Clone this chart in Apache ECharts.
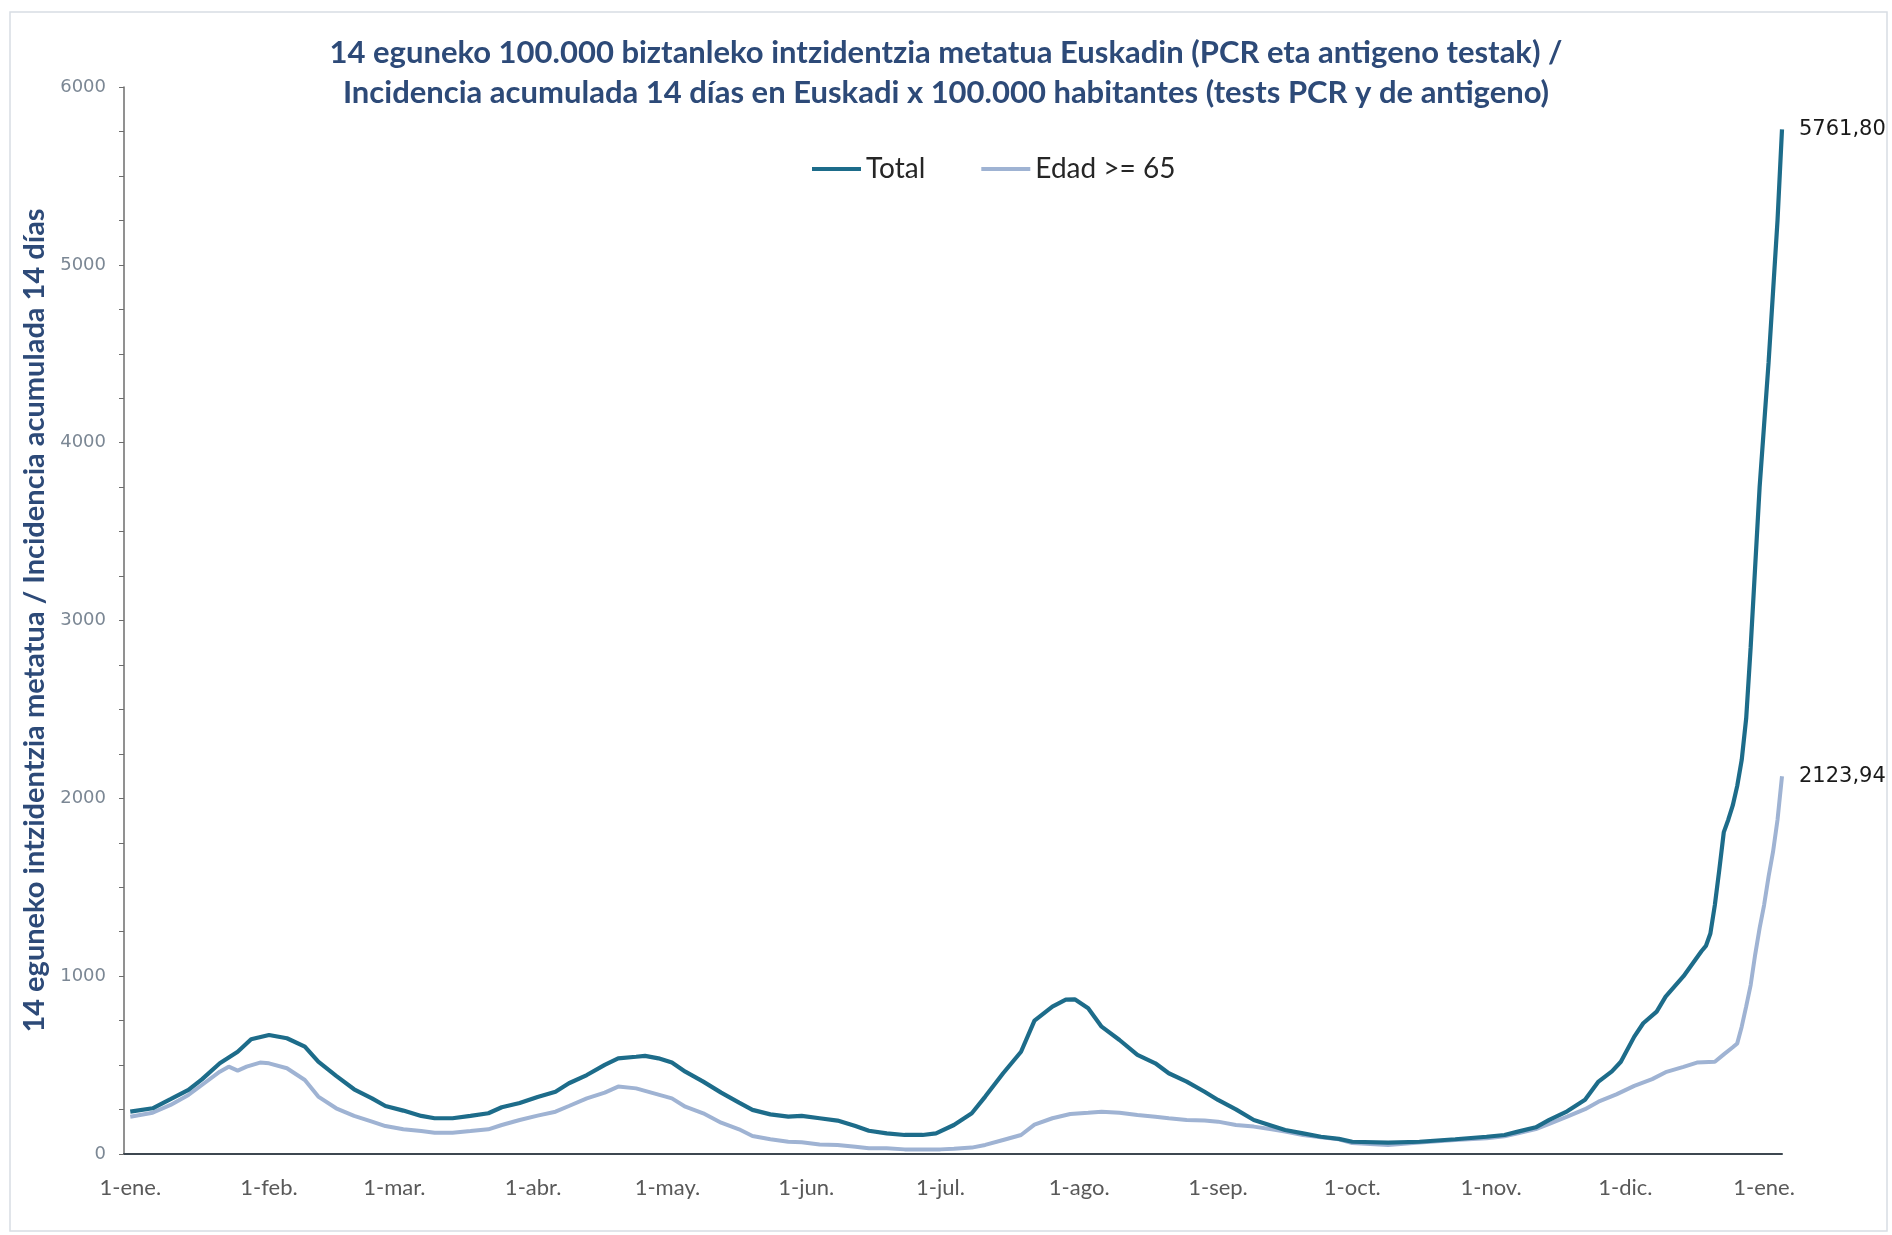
<!DOCTYPE html>
<html>
<head>
<meta charset="utf-8">
<script src="https://cdn.jsdelivr.net/npm/echarts@6/dist/echarts.min.js"></script>
<style>html,body{margin:0;padding:0;background:#fff;}#c{width:1892px;height:1235px;}</style>
</head>
<body>
<div id="c"></div>
<script>
// Day offsets counted from 1 January 2021
const START_DATE = '2021-01-01';
const totalDays = [0,5,9,13,16,20,24,27,31,35,39,42,46,50,54,57,61,65,68,72,76,80,83,87,91,95,98,102,106,109,113,115,118,121,124,128,132,136,139,143,147,150,154,158,162,165,169,173,177,180,184,188,191,195,199,202,206,209,211,214,217,221,225,229,232,236,240,243,247,251,255,258,262,266,270,273,281,288,296,303,307,310,314,317,321,325,328,331,333,336,338,341,343,347,351,352,353,354,355,356,357,358,359,360,361,362,363,364,365,366,367,368,369];
const totalValues = [238,257,308,360,420,510,575,645,669,651,604,519,439,364,313,270,244,214,201,201,214,229,263,287,321,350,398,444,501,538,547,552,538,514,463,407,345,289,248,223,210,214,201,188,157,131,116,107,107,116,163,229,323,454,575,750,829,868,870,819,716,641,557,510,454,407,350,304,251,191,159,135,116,97,85,69,64,69,83,97,107,126,150,192,240,305,407,465,519,660,735,801,885,1000,1140,1170,1240,1400,1600,1810,1880,1960,2070,2216,2450,2850,3300,3750,4100,4450,4850,5250,5761.80];
const edadDays = [0,5,9,13,16,20,22,24,26,29,31,35,39,42,46,50,54,57,61,65,68,72,76,80,83,87,91,95,98,102,106,109,113,117,121,124,128,132,136,139,143,147,150,154,158,162,165,169,173,181,184,188,191,195,199,202,206,210,214,217,221,225,229,232,236,240,243,247,251,255,258,262,266,270,273,281,288,296,303,307,310,314,317,321,325,328,332,336,340,343,347,350,354,356,358,359,360,361,362,363,364,365,366,367,368,369];
const edadValues = [210,232,276,332,388,463,491,469,491,514,510,482,416,323,257,214,182,157,139,129,120,120,129,139,163,191,216,238,270,313,345,379,369,341,313,266,229,176,139,101,83,69,66,54,51,41,32,32,26,26,29,36,51,79,107,165,201,225,232,238,232,219,210,201,191,188,182,163,154,139,126,107,94,83,62,51,64,79,88,100,116,140,170,210,252,294,335,383,421,460,490,514,519,560,600,622,716,830,950,1120,1270,1400,1560,1700,1880,2123.94];
const tickDates = ['2021-01-01','2021-02-01','2021-03-01','2021-04-01','2021-05-01','2021-06-01','2021-07-01','2021-08-01','2021-09-01','2021-10-01','2021-11-01','2021-12-01','2022-01-01'];
const tickLabels = ['1-ene.','1-feb.','1-mar.','1-abr.','1-may.','1-jun.','1-jul.','1-ago.','1-sep.','1-oct.','1-nov.','1-dic.','1-ene.'];
const seriesNames = ['Total', 'Edad >= 65'];
const titleLines = [
  '14 eguneko 100.000 biztanleko intzidentzia metatua Euskadin (PCR eta antigeno testak) /',
  'Incidencia acumulada 14 días en Euskadi x 100.000 habitantes (tests PCR y de antigeno)'
];
const yAxisTitle = '14 eguneko intzidentzia metatua / Incidencia acumulada 14 días';

const DAY = 86400000;
const t0 = Date.parse(START_DATE);
const toPairs = (days, vals) => days.map((d, i) => [t0 + d * DAY, vals[i]]);
const tickTs = tickDates.map(s => Date.parse(s));
const titleStyle = {fontFamily: 'Lato', fontWeight: 'bold', fontSize: 31, lineHeight: 40, color: '#2d4a78'};

const chart = echarts.init(document.getElementById('c'), null, {renderer: 'canvas'});
chart.setOption({
  backgroundColor: '#ffffff',
  animation: false,
  title: [
    {text: titleLines[0], left: 'center', top: 33, padding: 0, textStyle: titleStyle},
    {text: titleLines[1], left: 'center', top: 73, padding: 0, textStyle: titleStyle}
  ],
  legend: {
    left: 807,
    top: 150,
    icon: 'rect',
    itemWidth: 49,
    itemHeight: 4,
    itemGap: 56,
    textStyle: {fontFamily: 'Lato', fontSize: 28, color: '#262626'},
    data: seriesNames
  },
  grid: {left: 124, right: 110, top: 87, bottom: 81, containLabel: false},
  xAxis: {
    type: 'value',
    min: t0 - 1.4 * DAY,
    max: t0 + 369 * DAY,
    axisLine: {show: true, onZero: false, lineStyle: {color: '#3d4750', width: 2}},
    axisTick: {show: false},
    splitLine: {show: false},
    axisLabel: {
      customValues: tickTs,
      margin: 23,
      fontFamily: 'Lato',
      fontSize: 22,
      color: '#595959',
      formatter: function (v) {
        const i = tickTs.indexOf(v);
        return i >= 0 ? tickLabels[i] : '';
      }
    }
  },
  yAxis: {
    type: 'value',
    min: 0,
    max: 6000,
    interval: 250,
    name: yAxisTitle,
    nameLocation: 'middle',
    nameRotate: 90,
    nameGap: 73,
    nameTextStyle: {fontFamily: 'Lato', fontWeight: 'bold', fontSize: 29, color: '#2d4a78'},
    axisLine: {show: true, lineStyle: {color: '#6d6d6d', width: 1.5}},
    axisTick: {show: true, inside: false, length: 5, lineStyle: {color: '#6d6d6d'}},
    splitLine: {show: false},
    axisLabel: {
      margin: 18,
      fontFamily: 'DejaVu Sans',
      fontSize: 18,
      color: '#7b8794',
      formatter: function (v) { return v % 1000 === 0 ? String(v) : ''; }
    }
  },
  series: [
    {
      name: seriesNames[0],
      type: 'line',
      data: toPairs(totalDays, totalValues),
      showSymbol: false,
      symbol: 'none',
      z: 3,
      itemStyle: {color: '#1d6c8a'},
      lineStyle: {color: '#1d6c8a', width: 4.2},
      endLabel: {
        show: true,
        distance: 17,
        fontFamily: 'DejaVu Sans',
        fontSize: 21,
        color: '#1a1a1a',
        formatter: p => p.value[1].toFixed(2).replace('.', ',')
      }
    },
    {
      name: seriesNames[1],
      type: 'line',
      data: toPairs(edadDays, edadValues),
      showSymbol: false,
      symbol: 'none',
      z: 2,
      itemStyle: {color: '#9fb3d3'},
      lineStyle: {color: '#9fb3d3', width: 4},
      endLabel: {
        show: true,
        distance: 17,
        fontFamily: 'DejaVu Sans',
        fontSize: 21,
        color: '#1a1a1a',
        formatter: p => p.value[1].toFixed(2).replace('.', ',')
      }
    }
  ],
  graphic: [{
    type: 'rect',
    silent: true,
    z: -1,
    shape: {x: 10, y: 12, width: 1877, height: 1219},
    style: {fill: 'none', stroke: '#d8dde4', lineWidth: 1.5}
  }]
});
</script>
</body>
</html>
